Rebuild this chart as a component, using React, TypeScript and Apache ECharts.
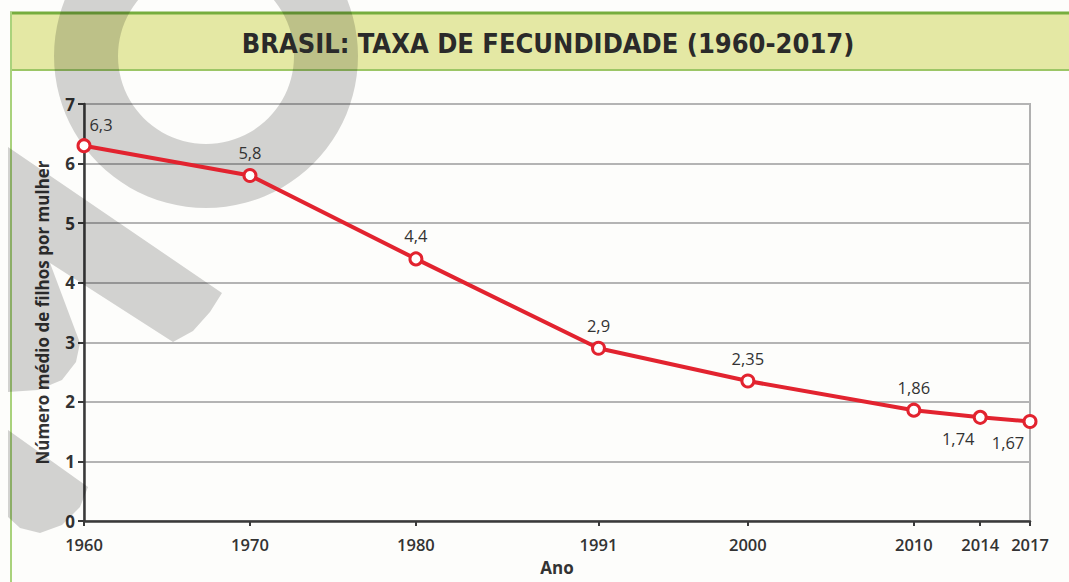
import React, { useEffect, useRef } from "react";
import * as echarts from "echarts";

const years = [1960, 1970, 1980, 1991, 2000, 2010, 2014, 2017];
const fertility = [6.3, 5.8, 4.4, 2.9, 2.35, 1.86, 1.74, 1.67];
const yTicks = [0, 1, 2, 3, 4, 5, 6, 7];
const titleText = "BRASIL: TAXA DE FECUNDIDADE (1960-2017)";
const yName = "Número médio de filhos por mulher";
const xName = "Ano";

const fmt = (v: number) => String(v).replace(".", ",");

export default function App() {
  const ref = useRef<HTMLDivElement>(null);
  useEffect(() => {
    document.body.style.margin = "0";
    const chart = echarts.init(ref.current!, null, { renderer: "svg" });
    const wm = "rgba(0,0,0,0.17)";
    const labelFor = (i: number) => {
      const base: any = {
        show: true,
        formatter: (p: any) => fmt(p.value[1]),
        fontFamily: "Open Sans",
        fontSize: 16.5,
        color: "#333",
      };
      if (i === 0) return { ...base, position: "top", distance: 5, offset: [17, 0] };
      if (i >= 6) return { ...base, position: "bottom", distance: 5, offset: [-22, 0] };
      return { ...base, position: "top", distance: 7 };
    };
    chart.setOption({
      animation: false,
      backgroundColor: "#fdfdfb",
      title: {
        text: titleText,
        left: 543,
        textAlign: "center",
        top: 25,
        textStyle: {
          fontFamily: "DejaVu Sans Condensed, Liberation Sans Narrow, sans-serif",
          fontWeight: "bold",
          fontSize: 27,
          color: "#2a2a2a",
        },
        z: 10,
      },
      graphic: [
        {
          type: "rect",
          z: -10,
          shape: { x: 10, y: 13, width: 1070, height: 57 },
          style: { fill: "#e4e8a4" },
          silent: true,
        },
        {
          type: "line",
          z: -9,
          shape: { x1: 10, y1: 13, x2: 1069, y2: 13 },
          style: { stroke: "#76ad3e", lineWidth: 3 },
        },
        {
          type: "line",
          z: -9,
          shape: { x1: 10, y1: 70, x2: 1069, y2: 70 },
          style: { stroke: "#9cc666", lineWidth: 2 },
        },
        {
          type: "line",
          z: -9,
          shape: { x1: 11, y1: 12, x2: 11, y2: 582 },
          style: { stroke: "#a9d27c", lineWidth: 2 },
        },
        {
          type: "ring",
          z: 1,
          shape: { cx: 206, cy: 56, r: 152, r0: 88 },
          style: { fill: wm },
          silent: true,
        },
        {
          type: "polygon",
          z: 1,
          shape: {
            points: [
              [8, 147], [222, 293], [210, 312], [193, 331], [173, 342],
              [50, 263], [80, 343], [76, 362], [62, 380], [38, 390], [8, 392],
            ],
          },
          style: { fill: wm },
          silent: true,
        },
        {
          type: "polygon",
          z: 1,
          shape: {
            points: [[8, 430], [88, 487], [80, 507], [62, 525], [40, 533], [20, 528], [8, 517]],
          },
          style: { fill: wm },
          silent: true,
        },
      ],
      grid: {
        left: 84,
        right: 39,
        top: 104,
        bottom: 61,
        show: true,
        borderColor: "#b0b0b0",
        borderWidth: 2,
        backgroundColor: "transparent",
      },
      xAxis: {
        type: "value",
        min: 1960,
        max: 2017,
        name: xName,
        nameLocation: "middle",
        nameGap: 38,
        nameTextStyle: { fontFamily: "Open Sans", fontWeight: "bold", fontSize: 17, color: "#333" },
        axisLine: { show: true, lineStyle: { color: "#3a3a3a", width: 2.5 } },
        axisTick: { show: true, length: 5, customValues: years, lineStyle: { color: "#3a3a3a", width: 2 } },
        axisLabel: {
          customValues: years,
          formatter: (v: number) => String(v),
          fontFamily: "Open Sans",
          fontWeight: 600,
          fontSize: 16.5,
          color: "#333",
          margin: 15,
        },
        splitLine: { show: false },
      },
      yAxis: {
        type: "value",
        min: 0,
        max: 7,
        interval: 1,
        name: yName,
        nameLocation: "middle",
        nameGap: 33,
        nameTextStyle: { fontFamily: "Open Sans", fontWeight: "bold", fontSize: 17, color: "#333" },
        axisLine: { show: true, lineStyle: { color: "#3a3a3a", width: 2.5 } },
        axisTick: { show: true, length: 6, lineStyle: { color: "#3a3a3a", width: 2 } },
        axisLabel: {
          formatter: (v: number) => (yTicks.includes(v) ? String(v) : ""),
          fontFamily: "Open Sans",
          fontWeight: "bold",
          fontSize: 17,
          color: "#333",
          margin: 9,
        },
        splitLine: { show: true, lineStyle: { color: "#b4b4b4", width: 2 } },
      },
      series: [
        {
          type: "line",
          z: 5,
          data: years.map((y, i) => ({ value: [y, fertility[i]], label: labelFor(i) })),
          lineStyle: { color: "#e2232f", width: 4 },
          itemStyle: { color: "#ffffff", borderColor: "#e2232f", borderWidth: 3 },
          symbol: "circle",
          symbolSize: 12,
          showAllSymbol: true,
        },
      ],
    });
    return () => chart.dispose();
  }, []);
  return <div ref={ref} style={{ width: 1069, height: 582 }} />;
}
